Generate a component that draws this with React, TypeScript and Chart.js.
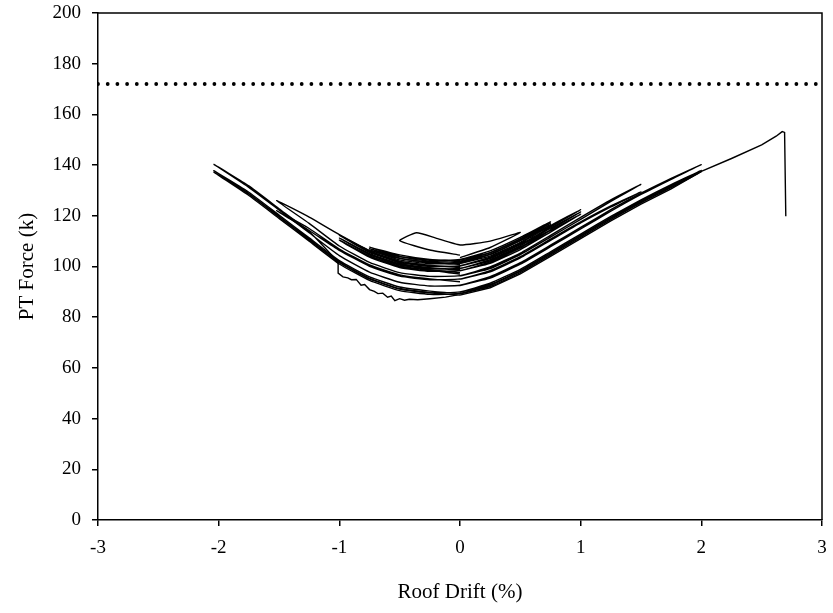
import React, { useEffect, useRef } from "react";
import { Chart, registerables } from "chart.js";
Chart.register(...registerables);

// ---- data (Roof Drift %, PT Force k) ----
const limitForce = 172;
const limitDrift = [-3, 3];

const driftC1 = [0, -0.25, -0.5, -0.36, -0.2, 0, 0.25, 0.5, 0.25, 0];
const forceC1 = [104.5, 106.5, 110.2, 113.3, 111.2, 108.5, 110, 113.4, 107.5, 103.5];

const driftA075 = [0, 0.25, 0.5, 0.75, 0.5, 0.25, 0, -0.25, -0.5, -0.75, -0.5, -0.25, 0];
const forceC2a = [102.5, 105.4, 110.8, 117.6, 111.5, 106.2, 102.8, 102.4, 104, 107.6, 104.6, 102.8, 102.2];
const forceC2b = [101.8, 104.7, 110.2, 117.1, 110.9, 105.5, 102.1, 101.7, 103.2, 107, 103.9, 102.1, 101.5];
const forceC2c = [101.2, 104.1, 109.5, 116.5, 110.3, 104.9, 101.5, 101.1, 102.6, 106.5, 103.3, 101.5, 100.8];

const driftA10 = [0, 0.25, 0.5, 0.75, 1, 0.75, 0.5, 0.25, 0, -0.25, -0.5, -0.75, -1, -0.75, -0.5, -0.25, 0];
const forceC3a = [100.2, 103.1, 108.6, 115.5, 122.4, 116.1, 109.2, 103.7, 100.3, 100, 101.6, 105.6, 112.3, 106.2, 102.1, 100.5, 99.6];
const forceC3b = [99.2, 102.1, 107.6, 114.5, 121.5, 115.1, 108.2, 102.7, 99.3, 99, 100.6, 104.6, 111.2, 105.1, 101.1, 99.5, 98.6];
const forceC3c = [98.3, 101.2, 106.7, 113.6, 120.6, 114.2, 107.3, 101.8, 98.4, 98.1, 99.6, 103.7, 110.4, 104.2, 100.2, 98.6, 97.6];

const driftA15 = [0, 0.25, 0.5, 0.75, 1, 1.25, 1.5, 1.25, 1, 0.75, 0.5, 0.25, 0, -0.25, -0.5, -0.75, -1, -1.25, -1.52, -1.25, -1, -0.75, -0.5, -0.25, 0];
const forceC4a = [96.3, 99.2, 104.7, 111.6, 118.6, 125.7, 132.4, 126.3, 119.4, 112.3, 105.3, 99.8, 96.4, 96.1, 97.6, 101.6, 108.1, 117, 126, 119.5, 112.6, 106.3, 101.3, 98.6, 97];
const forceC4b = [95, 97.9, 103.4, 110.3, 117.2, 123.5, 129.4, 123.9, 117.6, 110.8, 103.9, 98.4, 95.1, 94.8, 96.2, 100.1, 106.4, 114.2, 122, 115, 106.9, 100.6, 96.7, 95.1, 94];

const driftC5 = [0, 0.25, 0.5, 0.75, 1, 1.25, 1.5, 1.75, 2, 1.75, 1.5, 1.25, 1, 0.75, 0.5, 0.25, 0, -0.25, -0.5, -0.75, -1, -1.25, -1.5, -1.75, -2.04, -1.75, -1.5, -1.25, -1.01];
const forceC5 = [92.5, 95.4, 100.9, 107.8, 114.8, 121.8, 128.4, 134.4, 140.2, 134.8, 128.9, 122.4, 115.4, 108.4, 101.5, 96, 92.6, 92.3, 93.8, 97.8, 104.3, 113.3, 122.3, 131.2, 140.3, 131.8, 122.8, 113.8, 101.8];

const driftDrop = [-1.01, -1.01, -0.97, -0.93, -0.9, -0.86, -0.82, -0.79, -0.75, -0.71, -0.68, -0.64, -0.6, -0.57, -0.54, -0.5, -0.46, -0.42, -0.35, -0.25, -0.12, -0.02];
const forceDrop = [101.8, 97.4, 95.9, 95.5, 94.8, 94.9, 92.6, 92.9, 90.9, 90.2, 89.3, 89.5, 87.9, 88.3, 86.5, 87.3, 86.7, 87.1, 86.9, 87.3, 87.9, 88.8];

const driftA20 = [0, 0.25, 0.5, 0.75, 1, 1.25, 1.5, 1.75, 2, 1.75, 1.5, 1.25, 1, 0.75, 0.5, 0.25, 0, -0.25, -0.5, -0.75, -1, -1.25, -1.5, -1.75, -2.04, -1.75, -1.5, -1.25, -1, -0.75, -0.5, -0.25, 0];
const forceC6a = [89.8, 92.7, 98.2, 105.1, 112.1, 119.1, 125.7, 131.7, 137.9, 132.3, 126.3, 119.8, 112.8, 105.8, 98.9, 93.4, 90, 89.6, 91.1, 95.1, 101.6, 110.6, 119.6, 128.6, 137.8, 129.3, 120.3, 111.3, 102.3, 95.9, 91.9, 90.3, 89.3];
const forceC6b = [89.2, 92.1, 97.6, 104.5, 111.5, 118.5, 125.1, 131.1, 137.4, 131.7, 125.7, 119.2, 112.2, 105.2, 98.3, 92.8, 89.4, 89, 90.5, 94.5, 101, 110, 119, 128, 137.2, 128.7, 119.7, 110.7, 101.7, 95.3, 91.3, 89.7, 88.7];

const driftFinal = [0, 0.25, 0.5, 0.75, 1, 1.25, 1.5, 1.75, 2, 2.25, 2.5, 2.62, 2.67, 2.69, 2.7];
const forceFinal = [88.7, 91.6, 97.1, 104, 111, 118, 124.6, 130.6, 137.5, 142.6, 148, 151.4, 153.2, 152.9, 119.8];

const FONT = "'Liberation Serif', 'Times New Roman', serif";

function zip(xs: number[], ys: number[]) {
  return xs.map((x, i) => ({ x, y: ys[i] }));
}

const framePlugin = {
  id: "frame",
  afterDatasetsDraw(chart: any) {
    const { ctx, chartArea } = chart;
    const { left, top, right, bottom } = chartArea;
    ctx.save();
    ctx.strokeStyle = "#000";
    ctx.lineWidth = 1.5;
    ctx.beginPath();
    ctx.moveTo(left, top);
    ctx.lineTo(right, top);
    ctx.lineTo(right, bottom);
    ctx.stroke();
    ctx.restore();
  },
};

export default function App() {
  const ref = useRef<HTMLCanvasElement>(null);
  useEffect(() => {
    const cycles: [number[], number[], number][] = [
      [driftC1, forceC1, 0.15],
      [driftA075, forceC2a, 0.15],
      [driftA075, forceC2b, 0.15],
      [driftA075, forceC2c, 0.15],
      [driftA10, forceC3a, 0.15],
      [driftA10, forceC3b, 0.15],
      [driftA10, forceC3c, 0.15],
      [driftA15, forceC4a, 0.15],
      [driftA15, forceC4b, 0.15],
      [driftC5, forceC5, 0.15],
      [driftDrop, forceDrop, 0],
      [driftA20, forceC6a, 0.15],
      [driftA20, forceC6b, 0.15],
      [driftFinal, forceFinal, 0],
    ];
    const datasets: any[] = cycles.map(([xs, ys, t]) => ({
      data: zip(xs, ys),
      showLine: true,
      borderColor: "#000",
      borderWidth: 1.4,
      pointRadius: 0,
      tension: t,
    }));
    datasets.push({
      data: limitDrift.map((x) => ({ x, y: limitForce })),
      showLine: true,
      borderColor: "#000",
      borderWidth: 3.8,
      borderDash: [0, 9.7],
      borderCapStyle: "round",
      pointRadius: 0,
      tension: 0,
    });

    const tickFont = { family: FONT, size: 19 };
    const titleFont = { family: FONT, size: 21 };

    const chart = new Chart(ref.current!, {
      type: "scatter",
      data: { datasets },
      options: {
        animation: false,
        responsive: false,
        layout: { padding: { top: 13, right: 11, bottom: 0, left: 0 } },
        plugins: { legend: { display: false }, tooltip: { enabled: false } },
        scales: {
          x: {
            type: "linear",
            min: -3,
            max: 3,
            ticks: { stepSize: 1, font: tickFont, color: "#000", padding: 11 },
            grid: { drawOnChartArea: false, drawTicks: true, tickLength: 6, color: "#000", lineWidth: 1.5 },
            border: { display: true, color: "#000", width: 1.5 },
            title: { display: true, text: "Roof Drift (%)", font: titleFont, color: "#000", padding: { top: 0, bottom: 8 } },
            afterFit(s: any) { s.height = 93; s.paddingLeft = 0; s.paddingRight = 0; },
          },
          y: {
            type: "linear",
            min: 0,
            max: 200,
            ticks: { stepSize: 20, font: tickFont, color: "#000", padding: 11 },
            grid: { drawOnChartArea: false, drawTicks: true, tickLength: 6, color: "#000", lineWidth: 1.5 },
            border: { display: true, color: "#000", width: 1.5 },
            title: { display: true, text: "PT Force (k)", font: titleFont, color: "#000", padding: { top: 15, bottom: 0 } },
            afterFit(s: any) { s.width = 98; s.paddingTop = 0; s.paddingBottom = 0; },
          },
        },
      } as any,
      plugins: [framePlugin],
    });
    return () => chart.destroy();
  }, []);
  return (
    <div style={{ position: "absolute", left: 0, top: 0, width: 833, height: 613, background: "#fff" }}>
      <canvas ref={ref} width={833} height={613} style={{ display: "block" }} />
    </div>
  );
}
